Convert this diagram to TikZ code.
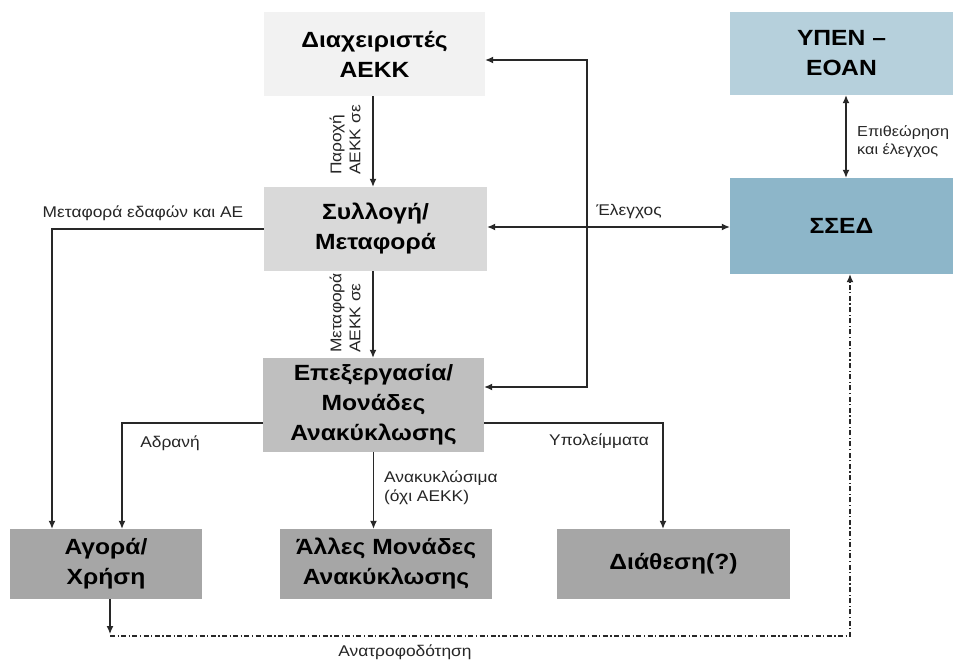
\documentclass[tikz,border=0pt]{standalone}
\usepackage{fontspec}
\setmainfont{Liberation Sans}[FakeStretch=1.12]
\usetikzlibrary{arrows.meta,calc}
\definecolor{cA}{RGB}{242,242,242}
\definecolor{cB}{RGB}{217,217,217}
\definecolor{cC}{RGB}{191,191,191}
\definecolor{cD}{RGB}{166,166,166}
\definecolor{cE}{RGB}{182,208,220}
\definecolor{cF}{RGB}{141,182,201}
\definecolor{ln}{RGB}{40,40,40}
\tikzset{
  boxn/.style={draw=none,minimum width=#1,inner sep=0pt,align=center,font=\fontsize{22}{30}\selectfont\bfseries},
  lab/.style={font=\fontsize{15.5}{19}\selectfont,inner sep=0pt,text=black!85},
  conn/.style={draw=ln,line width=1.2pt,-{Latex[length=8pt,width=7pt]}},
  conn2/.style={draw=ln,line width=1.2pt,{Latex[length=8pt,width=7pt]}-{Latex[length=8pt,width=7pt]}},
  fb/.style={draw=ln,line width=1.2pt,dash pattern=on 5pt off 2.5pt on 1.2pt off 2.5pt}
}
\begin{document}
\begin{tikzpicture}[x=1pt,y=-1pt]
\fill[white] (0,0) rectangle (953,661);
\useasboundingbox (0,0) rectangle (953,661);
% boxes
\node[boxn=221pt,minimum height=84pt,fill=cA] (diax) at (374.5,54) {Διαχειριστές\\ΑΕΚΚ};
\node[boxn=223pt,minimum height=83pt,fill=cE] (ypen) at (841.5,53.5) {ΥΠΕΝ –\\ΕΟΑΝ};
\node[boxn=223pt,minimum height=96pt,fill=cF] (ssed) at (841.5,226) {ΣΣΕΔ};
\node[boxn=223pt,minimum height=84pt,fill=cB] (syl) at (375.5,229) {Συλλογή/\\Μεταφορά};
\node[boxn=221pt,minimum height=94pt,fill=cC] (epex) at (373.5,405) {Επεξεργασία/\\Μονάδες\\Ανακύκλωσης};
\node[boxn=192pt,minimum height=70pt,fill=cD] (agora) at (106,564) {Αγορά/\\Χρήση};
\node[boxn=212pt,minimum height=70pt,fill=cD] (alles) at (386,564) {Άλλες Μονάδες\\Ανακύκλωσης};
\node[boxn=233pt,minimum height=70pt,fill=cD] (diath) at (673.5,564) {Διάθεση(?)};
% coordinates
\coordinate (ctrl) at (587,200);
\coordinate (fbA) at (110,634);
\coordinate (fbB) at (110,636);
\coordinate (fbC) at (850,636);
% vertical flows
\draw[conn] ([xshift=-1.5pt]diax.south) -- ([xshift=-1.5pt]diax.south |- syl.north);
\draw[conn] ([xshift=-2.5pt]syl.south) -- ([xshift=-2.5pt]syl.south |- epex.north);
\draw[conn] (epex.south) -- (epex.south |- alles.north);
% control line
\draw[conn2] ([yshift=-6pt]diax.east) -| (ctrl) |- ([yshift=18pt]epex.east);
\draw[conn2] ([yshift=2pt]syl.east) -- ([yshift=2pt]syl.east -| ssed.west);
\draw[conn2] ([xshift=4.5pt]ypen.south) -- ([xshift=4.5pt]ypen.south |- ssed.north);
% side flows
\draw[conn] (syl.west) -| ([xshift=-54pt]agora.north);
\draw[conn] ([yshift=-18pt]epex.west) -| ([xshift=16pt]agora.north);
\draw[conn] ([yshift=-18pt]epex.east) -| ([xshift=-10.5pt]diath.north);
% feedback
\draw[conn] ([xshift=4pt]agora.south) -- (fbA);
\draw[fb,-{Latex[length=8pt,width=7pt]}] (fbB) -- (fbC) -- (fbC |- ssed.south);
% labels
\node[lab,rotate=90,align=left] at (345,140) {Παροχή\\ΑΕΚΚ σε};
\node[lab,rotate=90,align=left] at (345,313) {Μεταφορά\\ΑΕΚΚ σε};
\node[lab] at (143,213) {Μεταφορά εδαφών και ΑΕ};
\node[lab] at (629,211) {Έλεγχος};
\node[lab,anchor=west,align=left,font=\fontsize{14.5}{18}\selectfont] at (857,142) {Επιθεώρηση\\και έλεγχος};
\node[lab] at (170,443) {Αδρανή};
\node[lab,anchor=west,align=left] at (384,488) {Ανακυκλώσιμα\\(όχι ΑΕΚΚ)};
\node[lab] at (599,441) {Υπολείμματα};
\node[lab] at (405,652) {Ανατροφοδότηση};
\end{tikzpicture}
\end{document}
